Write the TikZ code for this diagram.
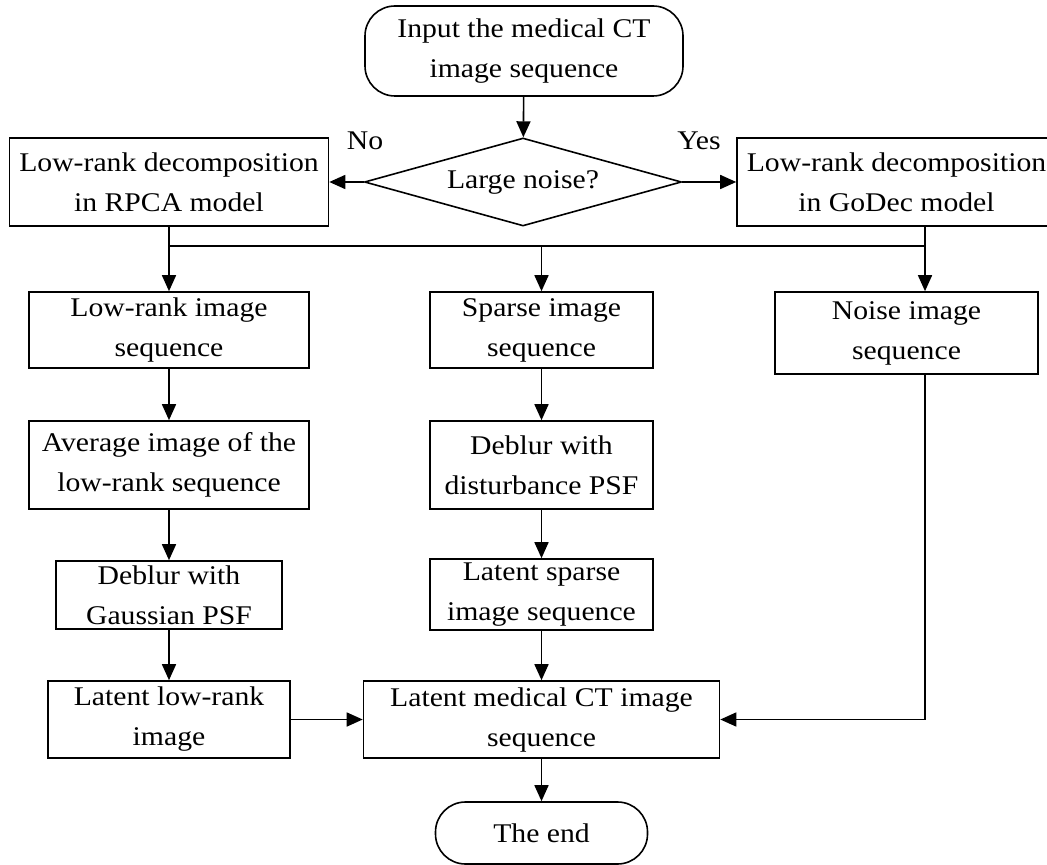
\documentclass[tikz,border=0pt]{standalone}
\usepackage{fontspec}
\setmainfont{Liberation Serif}[FakeStretch=1.1]
\usepackage{tikz}
\usetikzlibrary{shapes.geometric, arrows.meta}

\begin{document}
\begin{tikzpicture}[x=0.5pt, y=-0.5pt, line width=0.8pt,
    font=\fontsize{13.5}{20}\selectfont,
    >={Triangle[length=8pt, width=7pt]},
    box/.style={draw, align=center, inner sep=0pt},
    term/.style={draw, align=center, inner sep=0pt, rounded corners=15pt},
    decision/.style={draw, diamond, aspect=3.6, align=center, inner sep=0pt}]
    \useasboundingbox (0,0) rectangle (1047,865);

    \node[term, minimum width=159pt, minimum height=45pt]     (start)     at ( 524.0,  51.0)  {Input the medical CT \\ image sequence};
    \node[decision, minimum width=158.5pt, minimum height=44pt] (cond)    at ( 523.0, 182.0)  {Large noise?};
    \node[box, minimum width=159.5pt, minimum height=44pt]    (rpca)      at ( 169.0, 182.0)  {Low-rank decomposition \\ in RPCA model};
    \node[box, minimum width=159.5pt, minimum height=44pt]    (godec)     at ( 896.5, 182.0)  {Low-rank decomposition \\ in GoDec model};
    \node (no)  at (365, 141) {No};
    \node (yes) at (699, 141) {Yes};

    \node[box, minimum width=140pt, minimum height=38pt]      (lowseq)    at ( 169.0, 330.0)  {Low-rank image \\ sequence};
    \node[box, minimum width=111.5pt, minimum height=38pt]    (sparseseq) at ( 541.5, 330.0)  {Sparse image \\ sequence};
    \node[box, minimum width=131.5pt, minimum height=41pt]    (noiseseq)  at ( 906.5, 333.0)  {Noise image \\ sequence};

    \node[box, minimum width=140pt, minimum height=44pt]      (avg)       at ( 169.0, 465.0)  {Average image of the \\ low-rank sequence};
    \node[box, minimum width=111.5pt, minimum height=44pt]    (deblurd)   at ( 541.5, 465.0)  {Deblur with \\ disturbance PSF};

    \node[box, minimum width=113pt, minimum height=34pt]      (deblurg)   at ( 169.0, 595.0)  {Deblur with \\ Gaussian PSF};
    \node[box, minimum width=111.5pt, minimum height=35.5pt]  (latsparse) at ( 541.5, 594.5)  {Latent sparse \\ image sequence};

    \node[box, minimum width=121pt, minimum height=38.5pt]    (latlow)    at ( 169.0, 719.5)  {Latent low-rank \\ image};
    \node[box, minimum width=178pt, minimum height=38.5pt]    (latct)     at ( 541.5, 719.5)  {Latent medical CT image \\ sequence};

    \node[term, minimum width=106pt, minimum height=31pt]     (stop)      at ( 541.5, 833.0)  {The end};

    \coordinate (jl) at (169.0, 246);
    \coordinate (jm) at (541.5, 246);
    \coordinate (jr) at (925.0, 246);

    \draw[->] (start) -- (cond);
    \draw[->] (cond) -- (rpca);
    \draw[->] (cond) -- (godec);

    \draw[-]  (rpca.south) -- (jl) -- (jr) -- (godec.south -| jr);
    \draw[->] (jl) -- (lowseq);
    \draw[->] (jm) -- (sparseseq);
    \draw[->] (jr) -- (jr |- noiseseq.north);

    \draw[->] (lowseq) -- (avg);
    \draw[->] (avg) -- (deblurg);
    \draw[->] (deblurg) -- (latlow);

    \draw[->] (sparseseq) -- (deblurd);
    \draw[->] (deblurd) -- (latsparse);
    \draw[->] (latsparse) -- (latct);

    \draw[->] (latlow) -- (latct);
    \draw[->] (noiseseq.south -| jr) |- (latct);
    \draw[->] (latct) -- (stop);
\end{tikzpicture}
\end{document}
